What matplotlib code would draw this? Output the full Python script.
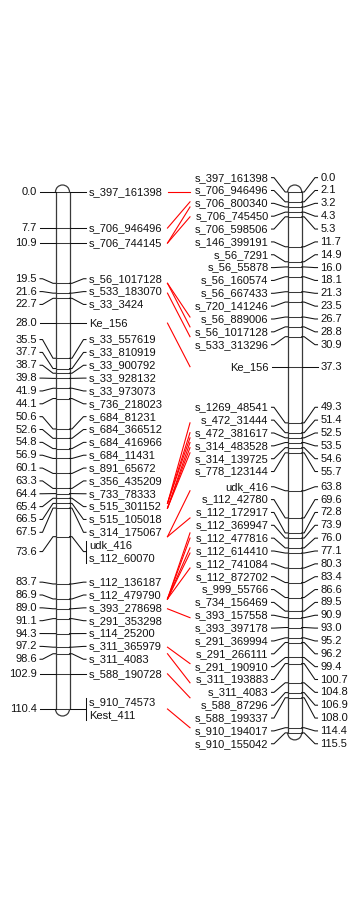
import matplotlib
matplotlib.use("Agg")
import matplotlib.pyplot as plt
from matplotlib.patches import Arc

plt.rcParams['font.family'] = ['Liberation Sans', 'DejaVu Sans']

# ---- linkage group A (left) ----
left_names = ["s_397_161398", "s_706_946496", "s_706_744145", "s_56_1017128",
              "s_533_183070", "s_33_3424", "Ke_156", "s_33_557619", "s_33_810919",
              "s_33_900792", "s_33_928132", "s_33_973073", "s_736_218023",
              "s_684_81231", "s_684_366512", "s_684_416966", "s_684_11431",
              "s_891_65672", "s_356_435209", "s_733_78333", "s_515_301152",
              "s_515_105018", "s_314_175067", "udk_416", "s_112_60070",
              "s_112_136187", "s_112_479790", "s_393_278698", "s_291_353298",
              "s_114_25200", "s_311_365979", "s_311_4083", "s_588_190728",
              "s_910_74573", "Kest_411"]
left_pos = [0.0, 7.7, 10.9, 19.5, 21.6, 22.7, 28.0, 35.5, 37.7, 38.7, 39.8, 41.9,
            44.1, 50.6, 52.6, 54.8, 56.9, 60.1, 63.3, 64.4, 65.4, 66.5, 67.5,
            73.6, 73.6, 83.7, 86.9, 89.0, 91.1, 94.3, 97.2, 98.6, 102.9, 110.4, 110.4]

# ---- linkage group B (right) ----
right_names = ["s_397_161398", "s_706_946496", "s_706_800340", "s_706_745450",
               "s_706_598506", "s_146_399191", "s_56_7291", "s_56_55878",
               "s_56_160574", "s_56_667433", "s_720_141246", "s_56_889006",
               "s_56_1017128", "s_533_313296", "Ke_156", "s_1269_48541",
               "s_472_31444", "s_472_381617", "s_314_483528", "s_314_139725",
               "s_778_123144", "udk_416", "s_112_42780", "s_112_172917",
               "s_112_369947", "s_112_477816", "s_112_614410", "s_112_741084",
               "s_112_872702", "s_999_55766", "s_734_156469", "s_393_157558",
               "s_393_397178", "s_291_369994", "s_291_266111", "s_291_190910",
               "s_311_193883", "s_311_4083", "s_588_87296", "s_588_199337",
               "s_910_194017", "s_910_155042"]
right_pos = [0.0, 2.1, 3.2, 4.3, 5.3, 11.7, 14.9, 16.0, 18.1, 21.3, 23.5, 26.7,
             28.8, 30.9, 37.3, 49.3, 51.4, 52.5, 53.5, 54.6, 55.7, 63.8, 69.6,
             72.8, 73.9, 76.0, 77.1, 80.3, 83.4, 86.6, 89.5, 90.9, 93.0, 95.2,
             96.2, 99.4, 100.7, 104.8, 106.9, 108.0, 114.4, 115.5]

# ---- homology links (cM on A, cM on B) ----
link_left = [0.0, 7.7, 10.9, 10.9, 19.5, 19.5, 21.6, 28.0,
             66.5, 66.5, 66.5, 67.5, 67.5, 67.5, 73.6, 73.6,
             86.9, 86.9, 86.9, 86.9, 86.9, 89.0, 97.2, 98.6, 102.9, 110.4]
link_right = [0.0, 2.1, 3.2, 5.3, 26.7, 28.8, 30.9, 37.3,
              49.3, 51.4, 52.5, 53.5, 54.6, 55.7, 63.8, 69.6,
              72.8, 73.9, 76.0, 77.1, 80.3, 90.9, 100.7, 104.8, 108.0, 114.4]

W, H, DPI = 361, 923, 100
PX_PER_CM = 4.683
Y0 = 192.0                     # pixel row of 0 cM
GAP = 12.85 / PX_PER_CM        # label line spacing in cM
FS = 8
INK = "#111111"
CHROM = "#3a3a3a"
LW = 0.75


def group_markers(names, pos):
    loci = []
    for n, p in zip(names, pos):
        if loci and abs(loci[-1][0] - p) < 1e-9:
            loci[-1][1].append(n)
        else:
            loci.append([p, [n]])
    return loci


def spread(centers, sizes, gap):
    """Push overlapping label blocks apart, keeping each block centred on its loci."""
    groups = [[i] for i in range(len(centers))]

    def geom(g):
        tot = sum(sizes[i] for i in g)
        c = sum(centers[i] * sizes[i] for i in g) / tot
        top = c - tot * gap / 2
        return top, top + tot * gap

    changed = True
    while changed:
        changed = False
        k = 0
        while k < len(groups) - 1:
            _, b1 = geom(groups[k])
            t2, _ = geom(groups[k + 1])
            if t2 < b1 - 1e-9:
                groups[k] = groups[k] + groups[k + 1]
                del groups[k + 1]
                changed = True
            else:
                k += 1
    out = [0.0] * len(centers)
    for g in groups:
        top, _ = geom(g)
        acc = 0
        for i in g:
            out[i] = top + (acc + sizes[i] / 2) * gap
            acc += sizes[i]
    return out


def draw_chrom(ax, xl, xr, length, ticks):
    r_y = (xr - xl) / 2 / PX_PER_CM
    ax.plot([xl, xl], [0, length], color=CHROM, lw=0.9, solid_capstyle="butt")
    ax.plot([xr, xr], [0, length], color=CHROM, lw=0.9, solid_capstyle="butt")
    # y axis runs downwards, so the upper cap spans 180..360 degrees
    ax.add_patch(Arc(((xl + xr) / 2, 0), xr - xl, 2 * r_y, theta1=180, theta2=360,
                     color=CHROM, lw=0.9))
    ax.add_patch(Arc(((xl + xr) / 2, length), xr - xl, 2 * r_y, theta1=0, theta2=180,
                     color=CHROM, lw=0.9))
    for t in ticks:
        ax.plot([xl, xr], [t, t], color=CHROM, lw=LW)


def connector(ax, x_chrom, x_lab, y_true, y_lab, side):
    # side=+1 label to the right of the chromosome, -1 to the left
    d = 2.5 * side
    ax.plot([x_chrom, x_chrom + d, x_lab - d, x_lab],
            [y_true, y_true, y_lab, y_lab], color=INK, lw=LW)


fig = plt.figure(figsize=(W / DPI, H / DPI), dpi=DPI)
ax = fig.add_axes([0, 0, 1, 1])
ax.set_xlim(0, W)
ax.set_ylim((H - Y0) / PX_PER_CM, -Y0 / PX_PER_CM)
ax.axis("off")

# ---------- group A ----------
A_XL, A_XR = 55.5, 69.5
loci_a = group_markers(left_names, left_pos)
pos_a = [p for p, _ in loci_a]
size_a = [len(n) for _, n in loci_a]
lab_a = spread(pos_a, size_a, GAP)
draw_chrom(ax, A_XL, A_XR, max(left_pos), pos_a)
for (p, names), yl in zip(loci_a, lab_a):
    # position numbers on the left
    connector(ax, A_XL, 40.0, p, yl, -1)
    ax.text(37.0, yl, f"{p:.1f}", ha="right", va="center", fontsize=FS, color=INK)
    connector(ax, A_XR, 86.0, p, yl, +1)
    if len(names) == 1:
        ax.text(89.0, yl, names[0], ha="left", va="center", fontsize=FS, color=INK)
    else:
        n = len(names)
        top = yl - n * GAP / 2
        ax.plot([86.0, 86.0], [top + 0.15 * GAP, top + n * GAP - 0.15 * GAP],
                color=INK, lw=LW)
        for j, nm in enumerate(names):
            ax.text(89.0, top + (j + 0.5) * GAP, nm, ha="left", va="center",
                    fontsize=FS, color=INK)

# ---------- group B ----------
B_XL, B_XR = 287.7, 301.7
loci_b = group_markers(right_names, right_pos)
pos_b = [p for p, _ in loci_b]
size_b = [len(n) for _, n in loci_b]
lab_b = spread(pos_b, size_b, GAP)
draw_chrom(ax, B_XL, B_XR, max(right_pos), pos_b)
for (p, names), yl in zip(loci_b, lab_b):
    connector(ax, B_XL, 271.5, p, yl, -1)
    ax.text(268.5, yl, names[0], ha="right", va="center", fontsize=FS, color=INK)
    connector(ax, B_XR, 317.5, p, yl, +1)
    ax.text(320.5, yl, f"{p:.1f}", ha="left", va="center", fontsize=FS, color=INK)

# ---------- homology links ----------
for a, b in zip(link_left, link_right):
    ax.plot([167.5, 190.0], [a, b], color="#ff0000", lw=0.8)

fig.savefig("out.png", dpi=DPI)
